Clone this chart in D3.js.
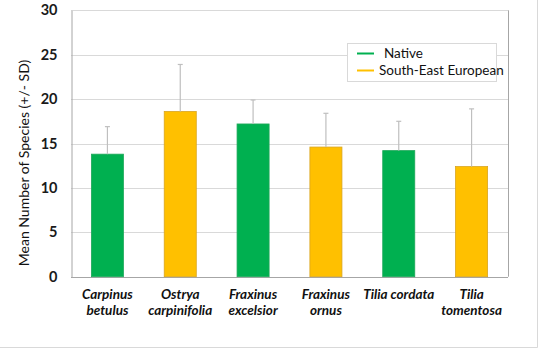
<!DOCTYPE html>
<html><head><meta charset="utf-8">
<script src="https://cdn.jsdelivr.net/npm/d3@7"></script>
<style>body{margin:0;background:#fff}svg{display:block}</style>
</head><body>
<svg id="c" width="538" height="348"></svg>
<script>
const categories = [["Carpinus","betulus"],["Ostrya","carpinifolia"],["Fraxinus","excelsior"],["Fraxinus","ornus"],["Tilia cordata"],["Tilia","tomentosa"]];
const means = [13.8, 18.6, 17.2, 14.6, 14.2, 12.4];
const sds = [3.1, 5.3, 2.7, 3.8, 3.3, 6.5];
const groups = ["Native","South-East European","Native","South-East European","Native","South-East European"];
const legendNames = ["Native","South-East European"];
const yTicks = [0,5,10,15,20,25,30];
const colors = {"Native":"#00B050","South-East European":"#FFC000"};

const svg = d3.select("#c");
const m = {l:71, r:508, t:10.3, b:276.7};
const x = d3.scaleBand().domain(d3.range(categories.length)).range([m.l, m.r]).paddingInner(0.56).paddingOuter(0.28);
const y = d3.scaleLinear().domain([0,30]).range([m.b, m.t]);
const FONT = "Lato, 'Open Sans', sans-serif";

// outer border
svg.append("path").attr("d","M0,347.5H537.5V0").attr("fill","none").attr("stroke","#d9d9d9");

// gridlines
svg.append("g").selectAll("line").data(yTicks.filter(d=>d>0)).join("line")
  .attr("x1",m.l).attr("x2",m.r).attr("y1",d=>Math.round(y(d))+0.5).attr("y2",d=>Math.round(y(d))+0.5)
  .attr("stroke","#d9d9d9");
// right border
svg.append("line").attr("x1",m.r+0.5).attr("x2",m.r+0.5).attr("y1",m.t).attr("y2",m.b).attr("stroke","#a6a6a6");

// y axis
const ya = svg.append("g").attr("transform",`translate(${m.l+0.5},0)`)
  .call(d3.axisLeft(y).tickValues(yTicks).tickSize(0).tickPadding(14));
ya.select(".domain").attr("stroke","#a6a6a6");
ya.selectAll("text").attr("font-family",FONT).attr("font-weight","bold").attr("font-size","14.5px").attr("fill","#1a1a1a");

// x axis line
svg.append("line").attr("x1",m.l).attr("x2",m.r).attr("y1",Math.round(m.b)+0.5).attr("y2",Math.round(m.b)+0.5).attr("stroke","#a6a6a6");

// bars
svg.append("g").selectAll("rect").data(means).join("rect")
  .attr("x",(d,i)=>x(i)).attr("width",x.bandwidth())
  .attr("y",d=>y(d)).attr("height",d=>y(0)-y(d))
  .attr("fill",(d,i)=>colors[groups[i]])
  .attr("stroke",(d,i)=>groups[i]==="Native"?"#1fa85a":"#d9a520").attr("stroke-width",0.8);

// error bars
const eb = svg.append("g").attr("stroke","#bfbfbf").attr("stroke-width",1.2);
means.forEach((d,i)=>{
  const cx = x(i)+x.bandwidth()/2;
  eb.append("line").attr("x1",cx).attr("x2",cx).attr("y1",y(d)).attr("y2",y(d+sds[i]));
  eb.append("line").attr("x1",cx-2.5).attr("x2",cx+2.5).attr("y1",y(d+sds[i])).attr("y2",y(d+sds[i]));
});

// x labels
const xl = svg.append("g").attr("font-family",FONT).attr("font-weight","bold").attr("font-style","italic").attr("font-size","13.5px").attr("fill","#111").attr("text-anchor","middle");
categories.forEach((lines,i)=>{
  const t = xl.append("text").attr("x",x(i)+x.bandwidth()/2).attr("y",298.5);
  lines.forEach((s,j)=>t.append("tspan").attr("x",x(i)+x.bandwidth()/2).attr("dy",j?16.5:0).text(s));
});

// y title
svg.append("text").attr("transform","translate(29,163) rotate(-90)").attr("text-anchor","middle")
  .attr("font-family",FONT).attr("font-size","14px").attr("fill","#111")
  .text("Mean Number of Species (+/- SD)");

// legend
const lg = svg.append("g");
lg.append("rect").attr("x",347.5).attr("y",43.5).attr("width",149).attr("height",38).attr("fill","#fff").attr("stroke","#d9d9d9");
legendNames.forEach((n,i)=>{
  const yy = i? 70.5 : 53.5;
  lg.append("line").attr("x1",357).attr("x2",374).attr("y1",yy).attr("y2",yy).attr("stroke",colors[n]).attr("stroke-width",2);
  lg.append("text").attr("x",i?379:384).attr("y",yy+4.5).attr("font-family",FONT).attr("font-size","13.5px").attr("fill","#111").text(n);
});
</script>
</body></html>
